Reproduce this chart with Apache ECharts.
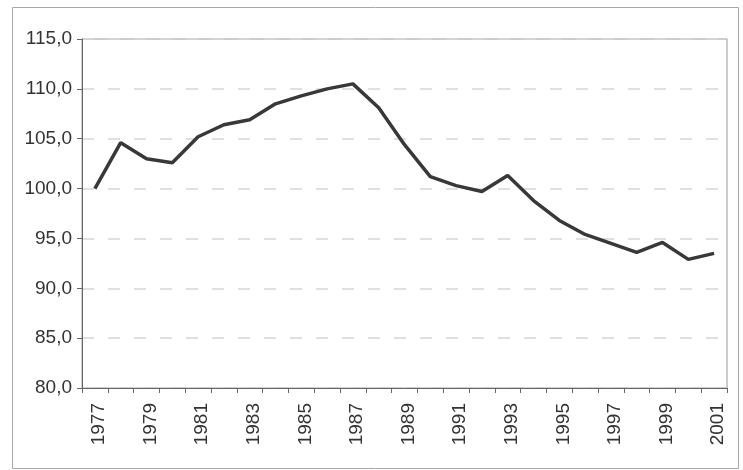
<!DOCTYPE html>
<html>
<head>
<meta charset="utf-8">
<script src="https://cdn.jsdelivr.net/npm/echarts@6/dist/echarts.min.js"></script>
<style>
  html, body { margin: 0; padding: 0; background: #ffffff; }
  #chart { width: 743px; height: 470px; }
</style>
</head>
<body>
<div id="chart"></div>
<script>
// Index values by year, 1977 = 100
const years = ['1977','1978','1979','1980','1981','1982','1983','1984','1985','1986',
               '1987','1988','1989','1990','1991','1992','1993','1994','1995','1996',
               '1997','1998','1999','2000','2001'];
const indexValues = [100.0, 104.6, 103.0, 102.6, 105.2, 106.4, 106.9, 108.5, 109.3, 110.0,
                     110.5, 108.1, 104.4, 101.2, 100.3, 99.7, 101.3, 98.8, 96.8, 95.4,
                     94.5, 93.6, 94.6, 92.9, 93.5];
const yMin = 80, yMax = 115, yStep = 5;

const chart = echarts.init(document.getElementById('chart'), null, { renderer: 'canvas' });

chart.setOption({
  backgroundColor: '#ffffff',
  animation: false,
  graphic: [{
    type: 'rect',
    shape: { x: 12.5, y: 7.5, width: 726, height: 461 },
    style: { fill: 'none', stroke: '#a8a8a8', lineWidth: 1 },
    silent: true
  }],
  grid: {
    left: 82, right: 16, top: 39, bottom: 82,
    show: true,
    borderColor: '#9a9a9a',
    borderWidth: 1,
    backgroundColor: 'transparent'
  },
  xAxis: {
    type: 'category',
    data: years,
    boundaryGap: true,
    axisLine: { show: true, lineStyle: { color: '#666666', width: 1 } },
    axisTick: { show: true, interval: 0, length: 5, lineStyle: { color: '#666666' } },
    axisLabel: {
      interval: 1,
      rotate: 90,
      margin: 15,
      verticalAlign: 'top',
      lineHeight: 8,
      color: '#333333',
      fontFamily: 'Liberation Sans, Arial, sans-serif',
      fontSize: 19
    },
    splitLine: { show: false }
  },
  yAxis: {
    type: 'value',
    min: yMin,
    max: yMax,
    interval: yStep,
    axisLine: { show: true, lineStyle: { color: '#666666', width: 1 } },
    axisTick: { show: true, length: 5, lineStyle: { color: '#666666' } },
    axisLabel: {
      margin: 10,
      color: '#333333',
      fontFamily: 'Liberation Sans, Arial, sans-serif',
      fontSize: 19,
      formatter: v => v.toFixed(1).replace('.', ',')
    },
    splitLine: {
      show: true,
      lineStyle: { color: '#d6d6d6', type: [12, 14], width: 1.5 }
    }
  },
  series: [{
    type: 'line',
    data: indexValues,
    symbol: 'none',
    smooth: false,
    lineStyle: { color: '#383838', width: 3.5 }
  }]
});
</script>
</body>
</html>
